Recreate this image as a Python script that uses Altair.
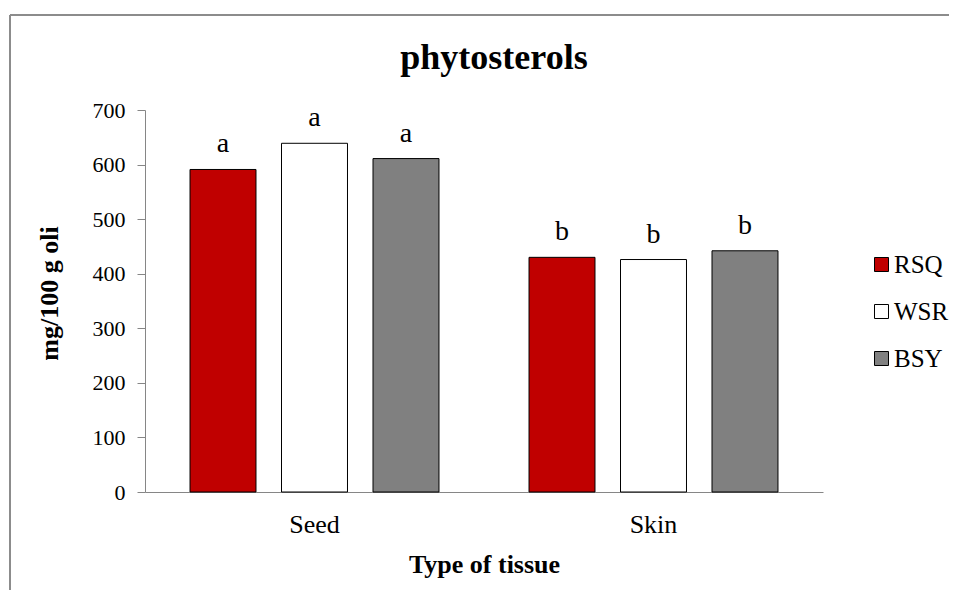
import altair as alt
import pandas as pd

# ---- data ----
tissues = ["Seed", "Skin"]
varieties = ["RSQ", "WSR", "BSY"]
seed_values = [591, 639, 611]
skin_values = [430, 426, 442]
seed_letters = ["a", "a", "a"]
skin_letters = ["b", "b", "b"]
bar_colors = ["#C00000", "#FFFFFF", "#808080"]
y_ticks = [0, 100, 200, 300, 400, 500, 600, 700]

rows = []
for t, vals, lets in [("Seed", seed_values, seed_letters), ("Skin", skin_values, skin_letters)]:
    for v, val, l in zip(varieties, vals, lets):
        rows.append({"tissue": t, "variety": v, "value": val, "letter": l})
df = pd.DataFrame(rows)

FONT = "Liberation Serif"
W, H = 678, 382
AXIS_GRAY = "#868686"

x_enc = alt.X(
    "tissue:N",
    sort=tissues,
    scale=alt.Scale(paddingInner=0, paddingOuter=0),
    axis=alt.Axis(
        title="Type of tissue",
        labelAngle=0,
        ticks=False,
        tickSize=0,
        labelPadding=19,
        labelFont=FONT,
        labelFontSize=26,
        titleFont=FONT,
        titleFontSize=26,
        titleFontWeight="bold",
        titleY=59,
    ),
)
xo_enc = alt.XOffset(
    "variety:N",
    sort=varieties,
    scale=alt.Scale(paddingInner=0.279, paddingOuter=0.492),
)
y_enc = alt.Y(
    "value:Q",
    scale=alt.Scale(domain=[0, 700], nice=False),
    axis=alt.Axis(
        title="mg/100 g oli",
        values=y_ticks,
        tickSize=8,
        labelPadding=12,
        labelFont=FONT,
        labelFontSize=22,
        titleFont=FONT,
        titleFontSize=26,
        titleFontWeight="bold",
        titleX=-83,
        titleY=183,
    ),
)

bars = alt.Chart(df).mark_bar(stroke="black", strokeWidth=1).encode(
    x=x_enc,
    xOffset=xo_enc,
    y=y_enc,
    color=alt.Color(
        "variety:N",
        sort=varieties,
        scale=alt.Scale(domain=varieties, range=bar_colors),
        legend=alt.Legend(
            title=None,
            orient="none",
            legendX=724,
            legendY=142,
            padding=0,
            symbolType="square",
            symbolSize=196,
            symbolStrokeColor="black",
            symbolStrokeWidth=1,
            labelFont=FONT,
            labelFontSize=25,
            labelColor="black",
            labelOffset=0,
            rowPadding=21,
        ),
    ),
)

letters = alt.Chart(df).mark_text(
    dy=-17, baseline="alphabetic", font=FONT, fontSize=28, color="black"
).encode(
    x=alt.X("tissue:N", sort=tissues),
    xOffset=alt.XOffset("variety:N", sort=varieties),
    y="value:Q",
    text="letter:N",
)

frame_df = pd.DataFrame({"k": [0]})
frame_top = alt.Chart(frame_df).mark_rule(color="#8c8c8c", strokeWidth=2).encode(
    x=alt.value(-135), x2=alt.value(810), y=alt.value(-95)
)
frame_left = alt.Chart(frame_df).mark_rule(color="#8c8c8c", strokeWidth=2).encode(
    x=alt.value(-135), y=alt.value(-95), y2=alt.value(490)
)

chart = (
    alt.layer(frame_top, frame_left, bars, letters)
    .properties(
        width=W,
        height=H,
        title=alt.TitleParams(
            "phytosterols",
            font=FONT,
            fontSize=36,
            fontWeight="bold",
            color="black",
            anchor="middle",
            baseline="alphabetic",
            offset=0,
            dx=10,
            dy=91,
        ),
        autosize=alt.AutoSizeParams(type="none"),
        padding={"left": 137, "top": 102, "right": 126, "bottom": 98},
    )
    .configure(font=FONT)
    .configure_axis(
        labelFont=FONT,
        titleFont=FONT,
        labelColor="black",
        titleColor="black",
        domainColor=AXIS_GRAY,
        tickColor=AXIS_GRAY,
        grid=False,
    )
    .configure_legend(labelFont=FONT)
    .configure_view(stroke=None)
)

chart.save("out.html", embed_options={"renderer": "svg", "actions": False})
